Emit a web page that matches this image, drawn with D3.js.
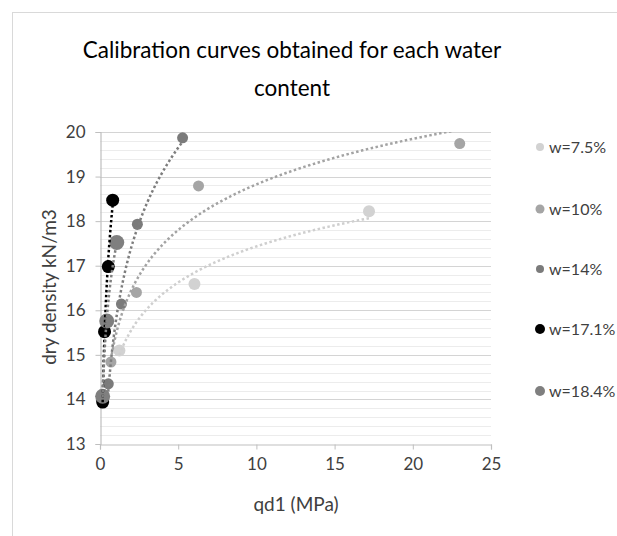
<!DOCTYPE html>
<html>
<head>
<meta charset="utf-8">
<script src="https://cdn.jsdelivr.net/npm/d3@7/dist/d3.min.js"></script>
<style>
  html, body { margin: 0; padding: 0; background: #fff; }
  svg { display: block; }
  text { font-family: Lato, "Open Sans", sans-serif; }
</style>
</head>
<body>
<svg id="chart" width="617" height="536"></svg>
<script>
// ---- data ----
const seriesNames = ["w=7.5%", "w=10%", "w=14%", "w=17.1%", "w=18.4%"];
const qd1_w75  = [1.24, 6.04, 17.2];
const dens_w75 = [15.1, 16.59, 18.22];
const qd1_w10  = [0.7, 2.33, 6.3, 23.0];
const dens_w10 = [14.84, 16.4, 18.79, 19.74];
const qd1_w14  = [0.53, 1.37, 2.39, 5.28];
const dens_w14 = [14.35, 16.14, 17.93, 19.87];
const qd1_w171  = [0.17, 0.29, 0.53, 0.81];
const dens_w171 = [13.94, 15.52, 16.98, 18.47];
const qd1_w184  = [0.17, 0.43, 1.07];
const dens_w184 = [14.07, 15.76, 17.52];
const xTicks = [0, 5, 10, 15, 20, 25];
const yTicks = [13, 14, 15, 16, 17, 18, 19, 20];

const seriesX = [qd1_w75, qd1_w10, qd1_w14, qd1_w171, qd1_w184];
const seriesY = [dens_w75, dens_w10, dens_w14, dens_w171, dens_w184];

// ---- styles ----
const markerColor = ["#d2d2d2", "#a5a5a5", "#7b7b7b", "#000000", "#7f7f7f"];
const lineColor   = ["#cfcfcf", "#a3a3a3", "#7d7d7d", "#000000", "#808080"];
const markerR     = [6, 5.5, 5.5, 6.5, 7.5];
const legendR     = [4, 4.5, 4, 5, 5];
const legendY     = [147, 209, 269, 329, 391];

const svg = d3.select("#chart");
const L = 100, R = 491, T = 132, B = 444;
const x = d3.scaleLinear().domain([0, 25]).range([L, R]);
const y = d3.scaleLinear().domain([13, 20]).range([B, T]);

// outer frame
svg.append("rect").attr("x", 12.5).attr("y", 12.5).attr("width", 640).attr("height", 600)
  .attr("fill", "none").attr("stroke", "#d9d9d9").attr("stroke-width", 1);

// minor gridlines
const minor = d3.range(13, 20.001, 0.2).filter(v => Math.abs(v - Math.round(v)) > 0.01);
svg.append("g").selectAll("line").data(minor).join("line")
  .attr("x1", L).attr("x2", R)
  .attr("y1", d => Math.round(y(d)) + 0.5).attr("y2", d => Math.round(y(d)) + 0.5)
  .attr("stroke", "#ececec").attr("stroke-width", 1);

// major gridlines
svg.append("g").selectAll("line").data(yTicks.slice(1)).join("line")
  .attr("x1", L).attr("x2", R)
  .attr("y1", d => Math.round(y(d)) + 0.5).attr("y2", d => Math.round(y(d)) + 0.5)
  .attr("stroke", "#d4d4d4").attr("stroke-width", 1.2);

// axes
const xAxis = d3.axisBottom(x).tickValues(xTicks).tickFormat(d3.format("d")).tickSize(5).tickPadding(8);
const gx = svg.append("g").attr("transform", `translate(0,${B + 0.5})`).call(xAxis);
const yAxis = d3.axisLeft(y).tickValues(yTicks).tickFormat(d3.format("d")).tickSize(5).tickPadding(10);
const gy = svg.append("g").attr("transform", `translate(${L + 0.5},0)`).call(yAxis);
[gx, gy].forEach(g => {
  g.select(".domain").attr("stroke", "#bfbfbf").attr("stroke-width", 1.2);
  g.selectAll(".tick line").attr("stroke", "#bfbfbf");
  g.selectAll(".tick text").attr("fill", "#404040").style("font-size", "17px")
    .style("font-family", "Lato, sans-serif");
});

// clip
svg.append("clipPath").attr("id", "plotclip").append("rect")
  .attr("x", L).attr("y", T).attr("width", R - L).attr("height", B - T);

// markers
seriesX.forEach((xs, i) => {
  svg.append("g").selectAll("circle").data(xs.map((v, j) => [v, seriesY[i][j]])).join("circle")
    .attr("cx", d => x(d[0])).attr("cy", d => y(d[1])).attr("r", markerR[i])
    .attr("fill", markerColor[i]);
});

// logarithmic trendlines (least-squares fit y = a + b ln x)
const trendG = svg.append("g").attr("clip-path", "url(#plotclip)");
seriesX.forEach((xs, i) => {
  const ys = seriesY[i];
  const lx = xs.map(Math.log);
  const mx = d3.mean(lx), my = d3.mean(ys);
  const b = d3.sum(lx.map((v, j) => (v - mx) * (ys[j] - my))) / d3.sum(lx.map(v => (v - mx) ** 2));
  const a = my - b * mx;
  const x0 = d3.min(xs), x1 = d3.max(xs);
  const pts = d3.range(0, 201).map(k => {
    const xv = Math.exp(Math.log(x0) + (Math.log(x1) - Math.log(x0)) * k / 200);
    return [xv, a + b * Math.log(xv)];
  });
  trendG.append("path").datum(pts)
    .attr("d", d3.line().x(d => x(d[0])).y(d => y(d[1])))
    .attr("fill", "none").attr("stroke", lineColor[i]).attr("stroke-width", 2.5)
    .attr("stroke-dasharray", "2.5,2.5");
});

// title
svg.append("text").attr("x", 292).attr("y", 58).attr("text-anchor", "middle")
  .style("font-size", "22.5px").attr("fill", "#000")
  .text("Calibration curves obtained for each water");
svg.append("text").attr("x", 292).attr("y", 96).attr("text-anchor", "middle")
  .style("font-size", "22.5px").attr("fill", "#000")
  .text("content");

// axis titles
svg.append("text").attr("x", 296).attr("y", 511).attr("text-anchor", "middle")
  .style("font-size", "19px").attr("fill", "#404040").text("qd1 (MPa)");
svg.append("text").attr("transform", "translate(56,287) rotate(-90)").attr("text-anchor", "middle")
  .style("font-size", "19px").attr("fill", "#404040").text("dry density kN/m3");

// legend
seriesNames.forEach((n, i) => {
  svg.append("circle").attr("cx", 540).attr("cy", legendY[i]).attr("r", legendR[i])
    .attr("fill", markerColor[i]);
  svg.append("text").attr("x", 549).attr("y", legendY[i] + 5.5)
    .style("font-size", "16px").attr("fill", "#404040").text(n);
});
</script>
</body>
</html>
